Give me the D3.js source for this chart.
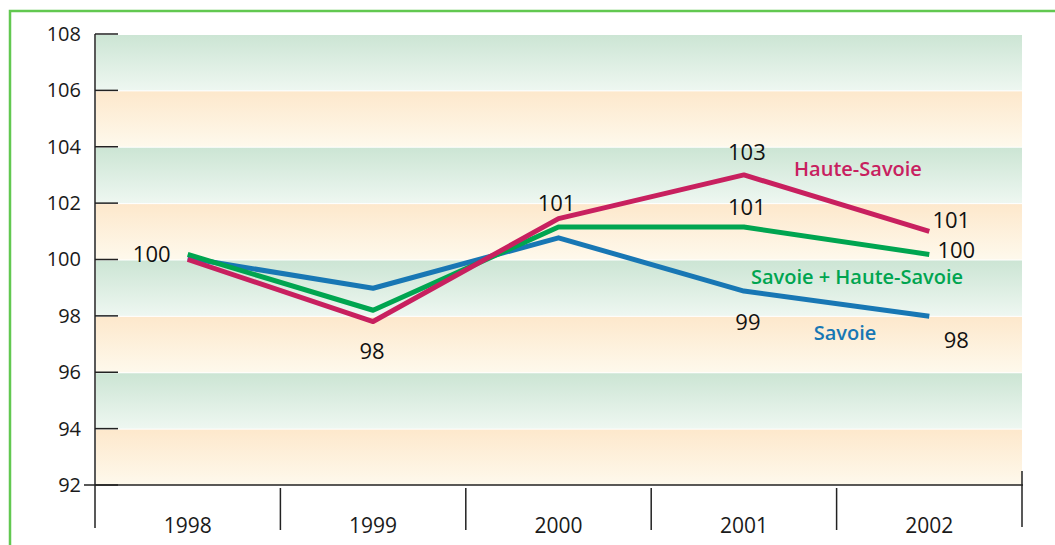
<!DOCTYPE html>
<html>
<head>
<meta charset="utf-8">
<script src="https://cdn.jsdelivr.net/npm/d3@7"></script>
<style>
  body { margin: 0; background: #fff; }
  svg { display: block; font-family: "Open Sans", sans-serif; }
</style>
</head>
<body>
<script>
// data
var years = ["1998", "1999", "2000", "2001", "2002"];
var hauteSavoie = [100.0, 97.8, 101.45, 103.0, 101.0];
var deuxSavoie = [100.18, 98.2, 101.15, 101.15, 100.18];
var savoie = [100.05, 98.98, 100.77, 98.88, 97.99];
var yTicks = [92, 94, 96, 98, 100, 102, 104, 106, 108];

var w = 1055;
var h = 545;

var svg = d3.select("body")
    .append("svg")
    .attr("width", w)
    .attr("height", h);

var defs = svg.append("defs");
function grad(id, top, bottom) {
    var g = defs.append("linearGradient")
        .attr("id", id)
        .attr("x1", 0).attr("y1", 0)
        .attr("x2", 0).attr("y2", 1);
    g.append("stop").attr("offset", "0%").attr("stop-color", top);
    g.append("stop").attr("offset", "100%").attr("stop-color", bottom);
}
grad("gGreen", "#cce5d4", "#eef7f1");
grad("gOrange", "#fde8cc", "#fef9ec");

// frame
svg.append("rect")
    .attr("x", 10).attr("y", 11)
    .attr("width", 1100).attr("height", 600)
    .attr("fill", "none")
    .attr("stroke", "#62c850")
    .attr("stroke-width", 2.5);

var xScale = d3.scaleBand()
    .domain(years)
    .range([95, 1022]);

var yScale = d3.scaleLinear()
    .domain([92, 108])
    .range([485, 34]);

function px(i) { return xScale(years[i]) + xScale.bandwidth() / 2; }

// background bands, 2 units each
var bands = d3.range(92, 108, 2);
svg.append("g").selectAll("rect")
    .data(bands)
    .enter()
    .append("rect")
    .attr("x", 96)
    .attr("width", 1022 - 96)
    .attr("y", function(d) { return yScale(d + 2) + 1; })
    .attr("height", function(d) { return yScale(d) - yScale(d + 2) - 1; })
    .attr("fill", function(d) {
        return ((d - 92) / 2) % 2 === 0 ? "url(#gOrange)" : "url(#gGreen)";
    });

// y axis
var yAxis = d3.axisLeft(yScale)
    .tickValues(yTicks)
    .tickSize(0)
    .tickPadding(14);
var ya = svg.append("g")
    .attr("transform", "translate(95,0)")
    .call(yAxis);
ya.select(".domain").remove();
ya.selectAll("text")
    .attr("font-family", "Open Sans, sans-serif")
    .attr("font-size", "20px")
    .attr("fill", "#1a1a1a");

svg.append("g").selectAll("line")
    .data(yTicks)
    .enter()
    .append("line")
    .attr("x1", function(d) { return d === 92 ? 84 : 95; })
    .attr("x2", 118)
    .attr("y1", function(d) { return yScale(d); })
    .attr("y2", function(d) { return yScale(d); })
    .attr("stroke", "#222")
    .attr("stroke-width", 1.5);

svg.append("line")
    .attr("x1", 95).attr("x2", 95)
    .attr("y1", yScale(108)).attr("y2", 528)
    .attr("stroke", "#222").attr("stroke-width", 1.5);

// x axis
svg.append("line")
    .attr("x1", 95).attr("x2", 1023)
    .attr("y1", yScale(92)).attr("y2", yScale(92))
    .attr("stroke", "#222").attr("stroke-width", 1.5);

var dividers = years.slice(1).map(function(d) { return xScale(d); });
svg.append("g").selectAll("line")
    .data(dividers)
    .enter()
    .append("line")
    .attr("x1", function(d) { return d; })
    .attr("x2", function(d) { return d; })
    .attr("y1", 488).attr("y2", 530)
    .attr("stroke", "#222").attr("stroke-width", 1.5);

svg.append("line")
    .attr("x1", 1022).attr("x2", 1022)
    .attr("y1", 471).attr("y2", 527)
    .attr("stroke", "#222").attr("stroke-width", 1.5);

svg.append("g").selectAll("text")
    .data(years)
    .enter()
    .append("text")
    .attr("x", function(d, i) { return px(i); })
    .attr("y", 533)
    .attr("text-anchor", "middle")
    .attr("font-size", "21px")
    .attr("fill", "#1a1a1a")
    .text(function(d) { return d; });

// lines
var series = [
    { name: "Savoie", values: savoie, color: "#1877b4" },
    { name: "Savoie + Haute-Savoie", values: deuxSavoie, color: "#00a550" },
    { name: "Haute-Savoie", values: hauteSavoie, color: "#c8205f" }
];

var line = d3.line()
    .x(function(d, i) { return px(i); })
    .y(function(d) { return yScale(d); });

svg.append("g").selectAll("path")
    .data(series)
    .enter()
    .append("path")
    .attr("d", function(d) { return line(d.values); })
    .attr("fill", "none")
    .attr("stroke", function(d) { return d.color; })
    .attr("stroke-width", 5)
    .attr("stroke-linejoin", "round");

// value labels: [series values, point index, dx, dy]
var valueLabels = [
    [deuxSavoie, 0, -36, 0],
    [hauteSavoie, 1, -1, 30],
    [hauteSavoie, 2, -2, -15],
    [hauteSavoie, 3, 3, -23],
    [deuxSavoie, 3, 3, -20],
    [savoie, 3, 4, 31],
    [hauteSavoie, 4, 22, -11],
    [deuxSavoie, 4, 27, -4],
    [savoie, 4, 27, 24]
];

svg.append("g").selectAll("text")
    .data(valueLabels)
    .enter()
    .append("text")
    .attr("x", function(d) { return px(d[1]) + d[2]; })
    .attr("y", function(d) { return yScale(d[0][d[1]]) + d[3]; })
    .attr("dy", "0.35em")
    .attr("text-anchor", "middle")
    .attr("font-size", "22px")
    .attr("fill", "#111")
    .text(function(d) { return Math.round(d[0][d[1]]); });

// series names
var nameLabels = [
    { s: series[2], x: 858, y: 169 },
    { s: series[1], x: 857, y: 277 },
    { s: series[0], x: 845, y: 333 }
];
svg.append("g").selectAll("text")
    .data(nameLabels)
    .enter()
    .append("text")
    .attr("x", function(d) { return d.x; })
    .attr("y", function(d) { return d.y; })
    .attr("dy", "0.35em")
    .attr("text-anchor", "middle")
    .attr("font-size", "20px")
    .attr("font-weight", 600)
    .attr("fill", function(d) { return d.s.color; })
    .text(function(d) { return d.s.name; });
</script>
</body>
</html>
